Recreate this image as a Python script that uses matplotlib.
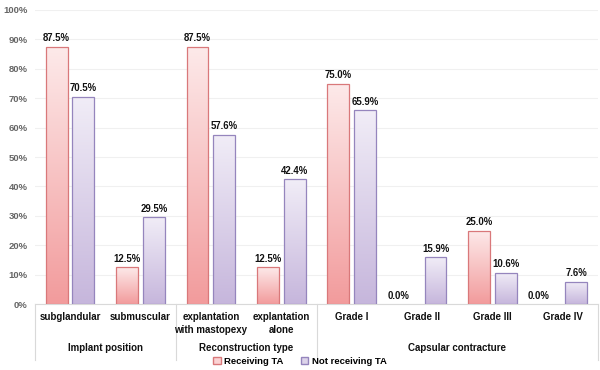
import matplotlib
matplotlib.use("Agg")
import matplotlib.pyplot as plt
import numpy as np
from matplotlib.patches import Patch
from matplotlib.colors import LinearSegmentedColormap

plt.rcParams['font.family'] = ['Liberation Sans', 'DejaVu Sans']

categories = ["subglandular", "submuscular", "explantation\nwith mastopexy", "explantation\nalone",
              "Grade I", "Grade II", "Grade III", "Grade IV"]
groups = ["Implant position", "Reconstruction type", "Capsular contracture"]
group_sizes = [2, 2, 4]
receiving = [87.5, 12.5, 87.5, 12.5, 75.0, 0.0, 25.0, 0.0]
not_receiving = [70.5, 29.5, 57.6, 42.4, 65.9, 15.9, 10.6, 7.6]
series_names = ["Receiving TA", "Not receiving TA"]
yticks = [0, 10, 20, 30, 40, 50, 60, 70, 80, 90, 100]

fig = plt.figure(figsize=(6, 3.7), dpi=100)
ax = fig.add_axes([0.058, 0.178, 0.939, 0.795])
x = np.arange(len(categories))
w = 0.31
off = 0.19

pink_cmap = LinearSegmentedColormap.from_list("p", ["#f29b9c", "#fdeaea"])
purp_cmap = LinearSegmentedColormap.from_list("u", ["#c6b6dc", "#f1edf7"])
grad = np.linspace(0, 1, 256).reshape(-1, 1)

def draw(xs, vals, cmap, edge):
    bars = ax.bar(xs, vals, w, facecolor="none", edgecolor=edge, linewidth=0.9, zorder=3)
    for b, v in zip(bars, vals):
        x0 = b.get_x()
        cx = x0 + w / 2
        if v > 0:
            im = ax.imshow(grad, cmap=cmap, origin="lower", aspect="auto",
                           extent=[x0, x0 + w, 0, v], zorder=2)
            im.set_clip_path(b)
        else:
            b.set_linewidth(0)
            cx -= 0.15
        ax.text(cx, v + 1.2, f"{v:.1f}%", ha="center", va="bottom",
                fontsize=6.9, fontweight="bold", color="#111111", zorder=4)
    return bars

draw(x - off, receiving, pink_cmap, "#d9787a")
draw(x + off, not_receiving, purp_cmap, "#9585bd")

ax.set_xlim(-0.5, len(categories) - 0.5)
ax.set_ylim(0, 100)
ax.set_yticks(yticks)
ax.set_yticklabels([f"{t}%" for t in yticks], fontsize=6.8, color="#666666", fontweight="bold")
ax.yaxis.grid(True, color="#f0f0f0", linewidth=0.8, zorder=0)
ax.set_axisbelow(True)
ax.tick_params(axis="y", length=0, pad=5)
ax.set_xticks([])
for s in ["top", "right", "left"]:
    ax.spines[s].set_visible(False)
ax.spines["bottom"].set_color("#d9d9d9")

# category labels
for i, c in enumerate(categories):
    ax.text(i, -2.6, c, ha="center", va="top", fontsize=7.0, fontweight="bold",
            color="#111111", linespacing=1.35, transform=ax.transData, clip_on=False)

# group labels and separators
trans = ax.get_xaxis_transform()
start = -0.5
bounds = [start]
for g, n in zip(groups, group_sizes):
    mid = start + n / 2
    ax.text(mid, -0.148, g, ha="center", va="center", fontsize=7.0, fontweight="bold",
            color="#111111", transform=trans, clip_on=False)
    start += n
    bounds.append(start)
for b in bounds:
    ax.plot([b, b], [0, -0.19], transform=trans, color="#d9d9d9", linewidth=0.8, clip_on=False)

handles = [Patch(facecolor="#fbd3d4", edgecolor="#d9787a", label=series_names[0]),
           Patch(facecolor="#ddd4ea", edgecolor="#9585bd", label=series_names[1])]
leg = fig.legend(handles=handles, loc="lower center", bbox_to_anchor=(0.5, -0.012), ncol=2,
                 frameon=False, fontsize=6.8, handlelength=0.8, handleheight=0.8,
                 handletextpad=0.4, columnspacing=1.8)
for t in leg.get_texts():
    t.set_fontweight("bold")

fig.savefig("out.png", dpi=100)
